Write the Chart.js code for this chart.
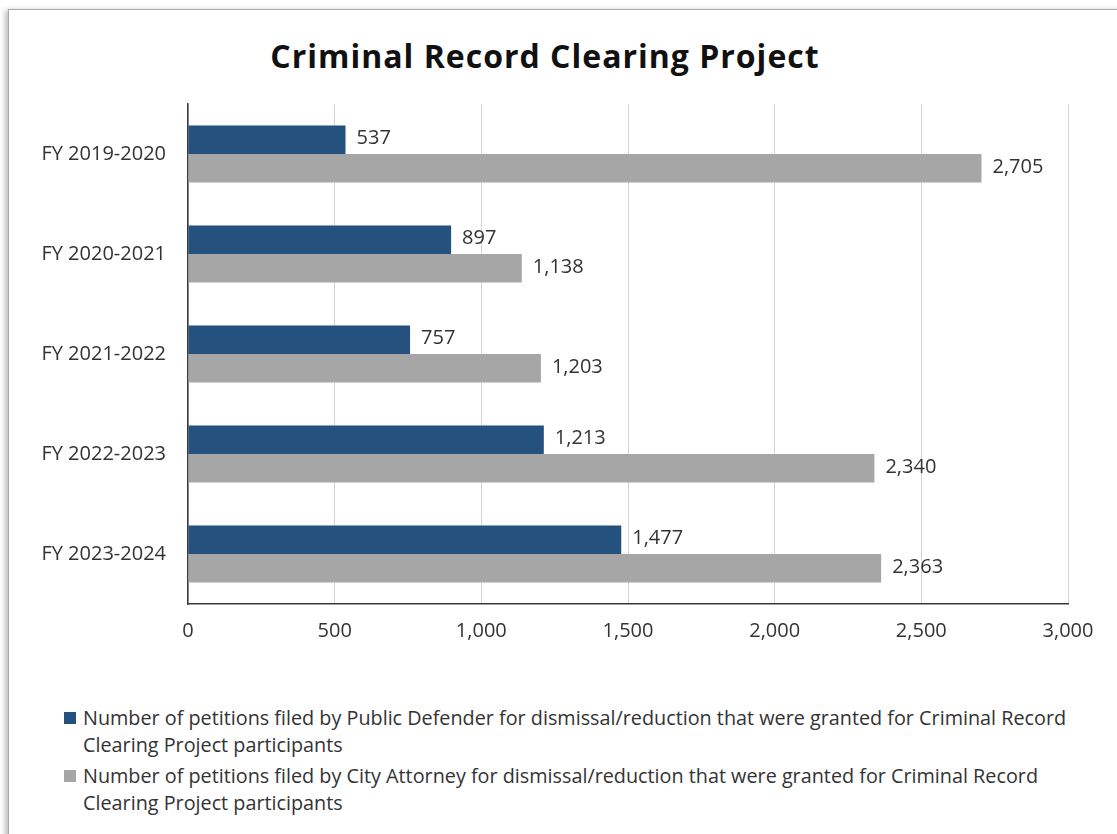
<!DOCTYPE html>
<html>
<head>
<meta charset="utf-8">
<script src="https://cdn.jsdelivr.net/npm/chart.js@4"></script>
<style>
  html, body { margin: 0; padding: 0; background: #ffffff; width: 1117px; height: 834px; overflow: hidden; }
  #frame {
    position: absolute; left: 8px; top: 9px; width: 1130px; height: 840px;
    border: 1px solid #a9a9a9; box-shadow: -3px 1px 5px rgba(0,0,0,0.25); background: #fff;
  }
  #title {
    position: absolute; left: 0; top: 34px; width: 1090px; text-align: center;
    font-family: "Open Sans", sans-serif; font-weight: 700; font-size: 32px; letter-spacing: 1px;
    line-height: 44px; color: #111;
  }
  #wrap { position: absolute; left: 0; top: 0; width: 1117px; height: 654px; }
  #legend {
    position: absolute; left: 64px; top: 704px; width: 1020px;
    font-family: "Open Sans", sans-serif; font-size: 19.8px; line-height: 27px; color: #333;
  }
  .item { position: relative; padding-left: 19px; margin-bottom: 4px; }
  .box { position: absolute; left: 0; top: 8px; width: 12px; height: 12px; }
</style>
</head>
<body>
<div id="frame"></div>
<div id="title">Criminal Record Clearing Project</div>
<div id="wrap"><canvas id="c" width="1117" height="654"></canvas></div>
<div id="legend"></div>
<script>
const categories = ["FY 2019-2020", "FY 2020-2021", "FY 2021-2022", "FY 2022-2023", "FY 2023-2024"];
const publicDefender = [537, 897, 757, 1213, 1477];
const cityAttorney = [2705, 1138, 1203, 2340, 2363];
const seriesNames = [
  "Number of petitions filed by Public Defender for dismissal/reduction that were granted for Criminal Record Clearing Project participants",
  "Number of petitions filed by City Attorney for dismissal/reduction that were granted for Criminal Record Clearing Project participants"
];
const seriesColors = ["#24517e", "#a6a6a6"];
const tickValues = [0, 500, 1000, 1500, 2000, 2500, 3000];

const fmt = v => v.toLocaleString("en-US");

// value labels at the end of each bar
const valueLabels = {
  id: "valueLabels",
  afterDatasetsDraw(chart) {
    const ctx = chart.ctx;
    ctx.save();
    ctx.font = '20px "Open Sans", sans-serif';
    ctx.fillStyle = "#333333";
    ctx.textAlign = "left";
    ctx.textBaseline = "middle";
    chart.data.datasets.forEach((ds, i) => {
      chart.getDatasetMeta(i).data.forEach((bar, j) => {
        ctx.fillText(fmt(ds.data[j]), bar.x + 11, bar.y - 1);
      });
    });
    ctx.restore();
  }
};

const chart = new Chart(document.getElementById("c"), {
  type: "bar",
  data: {
    labels: categories,
    datasets: [
      { label: seriesNames[0], data: publicDefender, backgroundColor: seriesColors[0] },
      { label: seriesNames[1], data: cityAttorney, backgroundColor: seriesColors[1] }
    ]
  },
  options: {
    indexAxis: "y",
    responsive: false,
    animation: false,
    layout: { padding: { top: 104, right: 49, left: 0, bottom: 0 } },
    datasets: { bar: { categoryPercentage: 0.57, barPercentage: 1.0 } },
    plugins: { legend: { display: false }, tooltip: { enabled: false }, title: { display: false } },
    scales: {
      x: {
        min: 0, max: 3000,
        afterBuildTicks: s => { s.ticks = tickValues.map(v => ({ value: v })); },
        afterFit: s => { s.height = 50; },
        ticks: { font: { family: "Open Sans", size: 20 }, color: "#333333", padding: 15, callback: v => fmt(v) },
        grid: { color: "#d4d4d4", lineWidth: 1, drawTicks: false },
        border: { display: true, color: "#3a3a3a", width: 1.5 }
      },
      y: {
        afterFit: s => { s.width = 188; },
        ticks: { font: { family: "Open Sans", size: 20 }, color: "#333333", padding: 22 },
        grid: { display: false, drawTicks: false },
        border: { display: true, color: "#3a3a3a", width: 1.5 }
      }
    }
  },
  plugins: [valueLabels]
});

// legend with wrapped text, built from the datasets
const legend = document.getElementById("legend");
chart.data.datasets.forEach(ds => {
  const item = document.createElement("div");
  item.className = "item";
  const box = document.createElement("span");
  box.className = "box";
  box.style.background = ds.backgroundColor;
  item.appendChild(box);
  item.appendChild(document.createTextNode(ds.label));
  legend.appendChild(item);
});
</script>
</body>
</html>
